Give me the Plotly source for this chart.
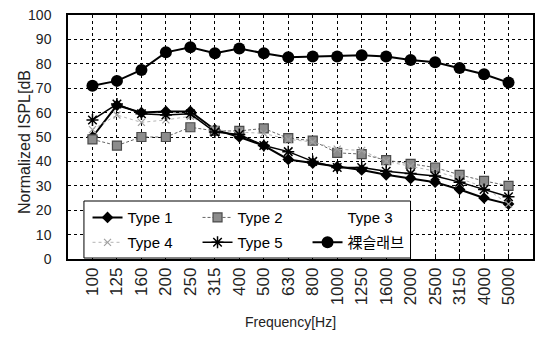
import plotly.graph_objects as go

freq_labels = ["100", "125", "160", "200", "250", "315", "400", "500", "630", "800",
               "1000", "1250", "1600", "2000", "2500", "3150", "4000", "5000"]

type1 = [50, 63, 60, 60.5, 60.5, 53, 50, 46.5, 40.8, 39.3, 37.8, 36.5, 34.5, 33, 31.5, 28.5, 25, 22.5]
type2 = [49, 46.5, 50, 50, 54, 52.5, 52.5, 53.5, 49.5, 48.5, 43.5, 43, 40.5, 39, 37.5, 34.5, 32, 30]
type3 = [52, 58, 55, 56, 57, 52.5, 52, 51, 48.5, 47, 44, 43.5, 39.5, 37.5, 35.5, 32.5, 29, 23]
type4 = [53, 59, 56, 57, 58.5, 53, 52, 51.5, 49, 48, 45, 44.5, 40, 38, 36, 33, 29.5, 22.5]
type5 = [57, 63.5, 59.5, 59, 59.5, 52, 51, 46.5, 44, 40, 37.5, 37.5, 36, 35, 34, 31.5, 28.5, 25.5]
bare_slab = [71, 73, 77.5, 84.7, 86.8, 84.3, 86.3, 84.3, 82.7, 83, 83, 83.5, 83, 81.6, 80.6, 78.3, 75.7, 72.3]

y_tick_vals = [0, 10, 20, 30, 40, 50, 60, 70, 80, 90, 100]

REG = "Liberation Sans, Noto Sans CJK KR"

fig = go.Figure()

fig.add_trace(go.Scatter(
    x=freq_labels, y=type1, name="Type 1", mode="lines+markers",
    line=dict(color="black", width=2),
    marker=dict(symbol="diamond", size=9, color="black"),
    legend="legend"))
fig.add_trace(go.Scatter(
    x=freq_labels, y=type2, name="Type 2", mode="lines+markers",
    line=dict(color="#666666", width=1, dash="3px,2px"),
    marker=dict(symbol="square", size=9, color="#8c8c8c", line=dict(color="#4a4a4a", width=1.2)),
    legend="legend"))
fig.add_trace(go.Scatter(
    x=freq_labels, y=type3, name="Type 3", mode="lines",
    line=dict(color="rgba(255,255,255,0)", width=1),
    legend="legend"))
fig.add_trace(go.Scatter(
    x=freq_labels, y=type4, name="Type 4", mode="lines+markers",
    line=dict(color="#b5b5b5", width=1, dash="dot"),
    marker=dict(symbol="x-thin-open", size=7, color="#a0a0a0", line=dict(color="#a0a0a0", width=1.2)),
    legend="legend2"))
fig.add_trace(go.Scatter(
    x=freq_labels, y=type5, name="Type 5", mode="lines+markers",
    line=dict(color="black", width=1.5),
    marker=dict(symbol="asterisk-open", size=10, color="black", line=dict(color="black", width=1.5)),
    legend="legend2"))
fig.add_trace(go.Scatter(
    x=freq_labels, y=bare_slab, name="裸슬래브", mode="lines+markers",
    line=dict(color="black", width=2),
    marker=dict(symbol="circle", size=12, color="black"),
    legend="legend2"))

leg_common = dict(
    orientation="h", xref="paper", yref="paper", xanchor="left", yanchor="top",
    bgcolor="rgba(0,0,0,0)", borderwidth=0, entrywidth=65, entrywidthmode="pixels",
    itemwidth=30, tracegroupgap=0,
    font=dict(family=REG, size=15, color="black"),
)

fig.update_layout(
    width=540, height=342,
    margin=dict(l=68, r=5, t=15, b=83),
    paper_bgcolor="white", plot_bgcolor="white",
    showlegend=True,
    legend=dict(x=0.042, y=0.237, **leg_common),
    legend2=dict(x=0.042, y=0.135, **leg_common),
    xaxis=dict(
        type="category", range=[-1, 18],
        showline=True, linecolor="black", linewidth=1.5, mirror=True,
        showgrid=True, gridcolor="black", gridwidth=1, griddash="3px,3px",
        ticks="inside", ticklen=5, tickcolor="black",
        tickangle=-90, tickfont=dict(family=REG, size=17, color="#222"),
        zeroline=False,
    ),
    yaxis=dict(
        range=[0, 100], tickvals=y_tick_vals,
        showline=True, linecolor="black", linewidth=1.5, mirror=True,
        showgrid=True, gridcolor="black", gridwidth=1, griddash="3px,3px",
        ticks="", ticklabelstandoff=12,
        tickfont=dict(family=REG, size=14, color="#222"),
        zeroline=False,
    ),
    shapes=[dict(
        type="rect", xref="paper", yref="paper",
        x0=0.0343, x1=0.7366, y0=0.004, y1=0.2377,
        line=dict(color="black", width=1), fillcolor="white", layer="above",
    )],
    annotations=[
        dict(text="Normalized ISPL[dB", xref="paper", yref="paper",
             x=(25 - 68) / 467, y=0.48, xanchor="center", yanchor="middle",
             textangle=-90, showarrow=False,
             font=dict(family=REG, size=16, color="#222")),
        dict(text="Frequency[Hz]", xref="paper", yref="paper",
             x=(291 - 68) / 467, y=(259 - 322) / 244, xanchor="center", yanchor="middle",
             showarrow=False,
             font=dict(family=REG, size=14, color="#222")),
    ],
)

fig.write_html("out.html", config={"displayModeBar": False},
               post_script="document.body.style.margin='0px';")
